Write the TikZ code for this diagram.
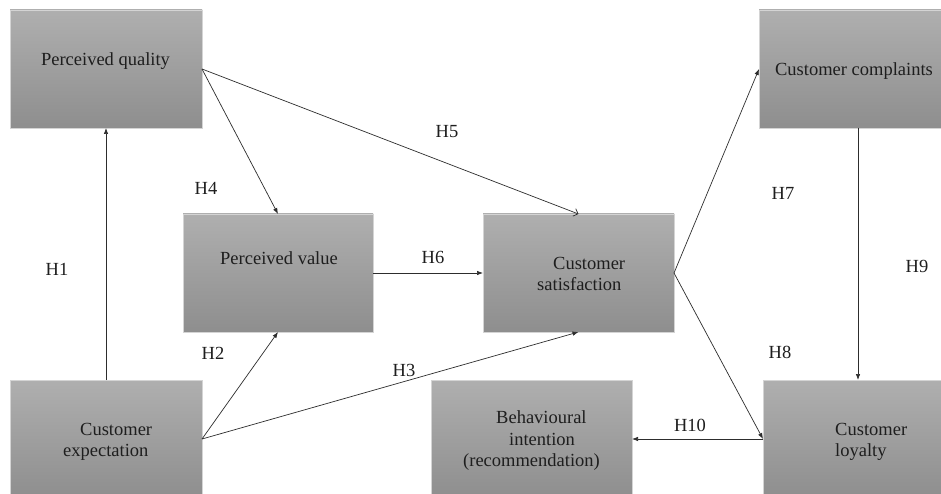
\documentclass[tikz,border=0pt]{standalone}
\usepackage{fontspec}
\setmainfont{Liberation Serif}
\usetikzlibrary{arrows.meta}
\definecolor{boxtop}{RGB}{175,175,175}
\definecolor{boxbot}{RGB}{142,142,142}
\definecolor{linec}{RGB}{45,45,45}
\definecolor{edgec}{RGB}{212,212,212}
\definecolor{txtc}{RGB}{30,30,30}
\begin{document}
\begin{tikzpicture}[x=1pt,y=-1pt,
  box/.style={draw=edgec, line width=0.6pt, top color=boxtop, bottom color=boxbot,
    inner sep=0pt, outer sep=0pt, minimum height=118pt},
  txt/.style={text=txtc, inner sep=0pt, font=\fontsize{18.5}{21.5}\selectfont},
  hlab/.style={text=txtc, inner sep=0pt, font=\fontsize{18.5}{21.5}\selectfont},
  arr/.style={draw=linec, line width=0.7pt, -{Latex[length=6pt,width=4.5pt]}},
  oarr/.style={draw=linec, line width=0.7pt, -{Straight Barb[length=4pt,width=8pt]}}]
\useasboundingbox (0,0) rectangle (941,494);
\clip (0,0) rectangle (941,494);
\fill[white] (0,0) rectangle (941,494);
% boxes
\node[box, minimum width=192pt] (pq) at (106,69) {};
\node[box, minimum width=186pt] (cc) at (852,69) {};
\node[box, minimum width=190pt] (pv) at (278,273) {};
\node[box, minimum width=191pt] (cs) at (578.5,273) {};
\node[box, minimum width=192pt] (ce) at (106,439) {};
\node[box, minimum width=201pt] (bi) at (531.5,439) {};
\node[box, minimum width=182pt] (cl) at (854,439) {};
% texts
\node[txt] (tpq) at (105.5,61) {Perceived quality};
\node[txt] (tcc) at (854,71) {Customer complaints};
\node[txt] (tpv) at (279,258) {Perceived value};
\node[txt, align=left, anchor=west] (tcs) at (537,274) {\hspace*{16pt}Customer\\satisfaction};
\node[txt, align=left, anchor=west] (tce) at (63,442) {\hspace*{17pt}Customer\\expectation};
\node[txt, align=left, anchor=west] (tbi) at (463,441) {\hspace*{33pt}Behavioural\\\hspace*{46pt}intention\\(recommendation)};
\node[txt, align=left, anchor=west] (tcl) at (835,442) {Customer\\loyalty};
% connectors
\draw[arr] (ce.north) -- (pq.south);
\draw[arr] (pq.east) -- (pv.north);
\draw[oarr] (pq.east) -- (cs.north);
\draw[arr] (ce.east) -- (pv.south);
\draw[arr] (ce.east) -- (cs.south);
\draw[arr] (pv.east) -- (cs.west);
\draw[arr] (cs.east) -- (cc.west);
\draw[arr] (cs.east) -- (cl.west);
\draw[arr] ([xshift=6pt]cc.south) -- ([xshift=6pt]cc.south |- cl.north);
\draw[arr] (cl.west) -- (bi.east);
% labels
\node[hlab] (h1) at (57,269) {H1};
\node[hlab] (h2) at (213,353) {H2};
\node[hlab] (h3) at (404,370) {H3};
\node[hlab] (h4) at (206,188) {H4};
\node[hlab] (h5) at (447,132) {H5};
\node[hlab] (h6) at (433,257) {H6};
\node[hlab] (h7) at (783,193) {H7};
\node[hlab] (h8) at (780,352) {H8};
\node[hlab] (h9) at (917,266) {H9};
\node[hlab] (h10) at (690,425) {H10};
\end{tikzpicture}
\end{document}
